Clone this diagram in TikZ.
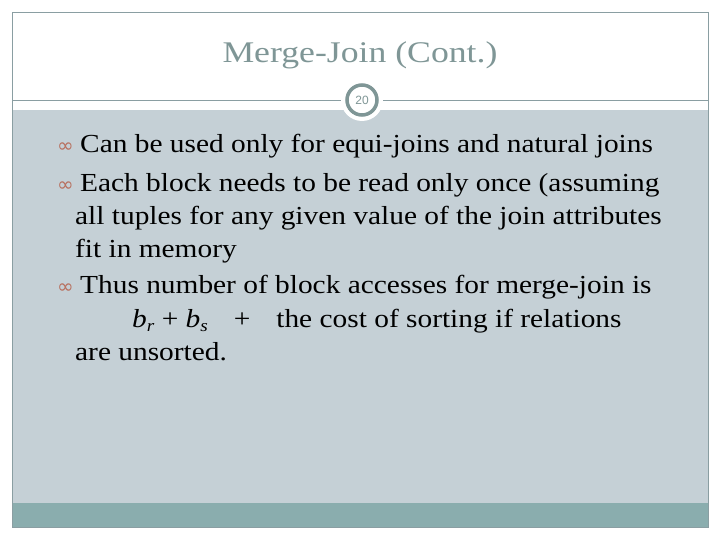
\documentclass[tikz,border=0pt]{standalone}
\usepackage{fontspec}
\setmainfont{Liberation Serif}[FakeStretch=1.13]
\newfontfamily\ttlf{Liberation Serif}[FakeStretch=1.19]
\newfontfamily\symf{DejaVu Sans}
\newfontfamily\numf{Liberation Sans}
\definecolor{bg}{HTML}{C5D0D6}
\definecolor{teal}{HTML}{8AADAE}
\definecolor{frame}{HTML}{8A9EA2}
\definecolor{ttl}{HTML}{7F9696}
\definecolor{bul}{HTML}{B8705F}
\begin{document}
\begin{tikzpicture}[x=1pt,y=-1pt,
  txt/.style={anchor=base west,inner sep=0pt,font=\fontsize{26}{30}\selectfont},
  bl/.style={anchor=base west,inner sep=0pt,text=bul,font=\symf\fontsize{20}{20}\selectfont}]
\useasboundingbox (0,0) rectangle (720,540);
\fill[white] (0,0) rectangle (720,540);
\fill[bg] (12,110) rectangle (708,503);
\fill[teal] (12,503) rectangle (708,527);
\draw[frame] (12,12) rectangle (708,527);
\draw[frame] (12,100) -- (708,100);
\node (title) at (360,55) [text=ttl,font=\ttlf\fontsize{30}{34}\selectfont] {Merge-Join (Cont.)};
\fill[white] (362,100) circle (21);
\draw[ttl,line width=3.5pt] (362,100) circle (15);
\node (num) at (362,100) [text=ttl,font=\numf\fontsize{12}{12}\selectfont] {20};
\node[bl] (b1) at (57,153) {∞};
\node[txt] (l1) at (80,153) {Can be used only for equi-joins and natural joins};
\node[bl] (b2) at (57,192) {∞};
\node[txt] (l2) at (80,192) {Each block needs to be read only once (assuming};
\node[txt] (l3) at (75,225) {all tuples for any given value of the join attributes};
\node[txt] (l4) at (75,258) {fit in memory};
\node[bl] (b3) at (57,293) {∞};
\node[txt] (l5) at (80,293) {Thus number of block accesses for merge-join is};
\node[txt] (l6) at (132,327) {\textit{b}\raisebox{-4pt}{\fontsize{17}{17}\selectfont\textit{r}} + \textit{b}\raisebox{-4pt}{\fontsize{17}{17}\selectfont\textit{s}}\quad +\quad the cost of sorting if relations};
\node[txt] (l7) at (75,360) {are unsorted.};
\end{tikzpicture}
\end{document}
